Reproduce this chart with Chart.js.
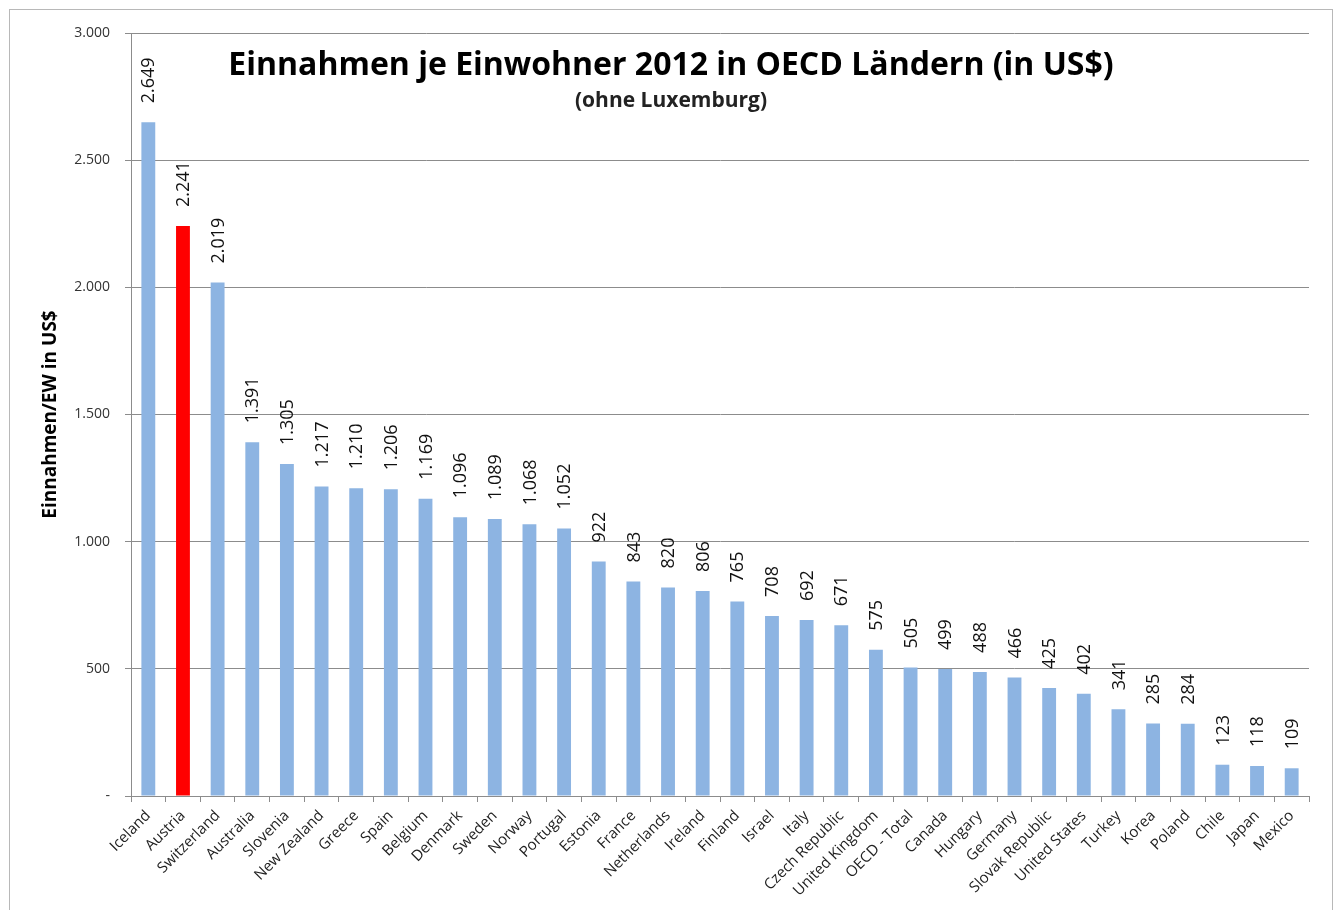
<!DOCTYPE html>
<html>
<head>
<meta charset="utf-8">
<script src="https://cdn.jsdelivr.net/npm/chart.js@4"></script>
<style>
  html, body { margin: 0; padding: 0; background: #fff; }
  #wrap { position: relative; width: 1338px; height: 910px; overflow: hidden; }
  #frame { position: absolute; left: 9px; top: 9px; width: 1322px; height: 940px; border: 1px solid #b8b8b8; }
  canvas { position: absolute; left: 0; top: 0; }
</style>
</head>
<body>
<div id="wrap">
  <div id="frame"></div>
  <canvas id="chart" width="1338" height="910"></canvas>
</div>
<script>
const countries = [
  "Iceland", "Austria", "Switzerland", "Australia", "Slovenia", "New Zealand", "Greece", "Spain",
  "Belgium", "Denmark", "Sweden", "Norway", "Portugal", "Estonia", "France", "Netherlands",
  "Ireland", "Finland", "Israel", "Italy", "Czech Republic", "United Kingdom", "OECD - Total",
  "Canada", "Hungary", "Germany", "Slovak Republic", "United States", "Turkey", "Korea",
  "Poland", "Chile", "Japan", "Mexico"
];
const revenuePerCapita = [
  2649, 2241, 2019, 1391, 1305, 1217, 1210, 1206,
  1169, 1096, 1089, 1068, 1052, 922, 843, 820,
  806, 765, 708, 692, 671, 575, 505,
  499, 488, 466, 425, 402, 341, 285,
  284, 123, 118, 109
];
const highlightCountry = "Austria";
const yTicks = [0, 500, 1000, 1500, 2000, 2500, 3000];

const chartTitle = "Einnahmen je Einwohner 2012 in OECD Ländern (in US$)";
const chartSubtitle = "(ohne Luxemburg)";

const FONT = "'Open Sans', 'Noto Sans', sans-serif";
const GRID = "#8c8c8c";

const fmt = (v) => (v === 0 ? "-" : String(v).replace(/\B(?=(\d{3})+(?!\d))/g, "."));

const barColors = countries.map((c) => (c === highlightCountry ? "#ff0000" : "#8db4e2"));

const valueLabels = {
  id: "valueLabels",
  afterDatasetsDraw(chart) {
    const { ctx } = chart;
    const meta = chart.getDatasetMeta(0);
    ctx.save();
    ctx.fillStyle = "#111";
    ctx.font = `18px ${FONT}`;
    ctx.textAlign = "left";
    ctx.textBaseline = "middle";
    meta.data.forEach((bar, i) => {
      ctx.save();
      ctx.translate(bar.x + 1, bar.y - 19);
      ctx.rotate(-Math.PI / 2);
      ctx.fillText(fmt(revenuePerCapita[i]), 0, 0);
      ctx.restore();
    });
    ctx.restore();
  },
};

const innerTitle = {
  id: "innerTitle",
  afterDraw(chart) {
    const { ctx } = chart;
    ctx.save();
    ctx.fillStyle = "#000";
    ctx.textAlign = "center";
    ctx.textBaseline = "middle";
    ctx.font = `bold 32px ${FONT}`;
    ctx.fillText(chartTitle, 671, 66);
    ctx.fillStyle = "#222";
    ctx.font = `bold 21px ${FONT}`;
    ctx.fillText(chartSubtitle, 671, 101);
    ctx.restore();
  },
};

new Chart(document.getElementById("chart"), {
  type: "bar",
  data: {
    labels: countries,
    datasets: [
      {
        data: revenuePerCapita,
        backgroundColor: barColors,
        barPercentage: 0.8,
        categoryPercentage: 0.5,
      },
    ],
  },
  options: {
    responsive: false,
    animation: false,
    layout: { padding: { left: 39, right: 29, top: 33, bottom: 0 } },
    plugins: {
      legend: { display: false },
      tooltip: { enabled: false },
    },
    scales: {
      x: {
        grid: { display: true, drawOnChartArea: false, offset: true, color: GRID, tickLength: 6 },
        border: { display: true, color: GRID },
        ticks: {
          autoSkip: false,
          minRotation: 45,
          maxRotation: 45,
          color: "#222",
          font: { family: FONT, size: 15 },
          padding: 5,
        },
        afterFit(scale) { scale.height = 114; },
      },
      y: {
        min: 0,
        max: 3000,
        afterBuildTicks(scale) { scale.ticks = yTicks.map((v) => ({ value: v })); },
        grid: { color: GRID, tickLength: 6 },
        border: { display: true, color: GRID },
        ticks: {
          color: "#333",
          font: { family: FONT, size: 14 },
          padding: 15,
          callback: (v) => fmt(v),
        },
        title: {
          display: true,
          text: "Einnahmen/EW in US$",
          color: "#000",
          font: { family: FONT, size: 19, weight: "bold" },
          padding: 0,
        },
        afterFit(scale) { scale.width = 92; },
      },
    },
  },
  plugins: [valueLabels, innerTitle],
});
</script>
</body>
</html>
